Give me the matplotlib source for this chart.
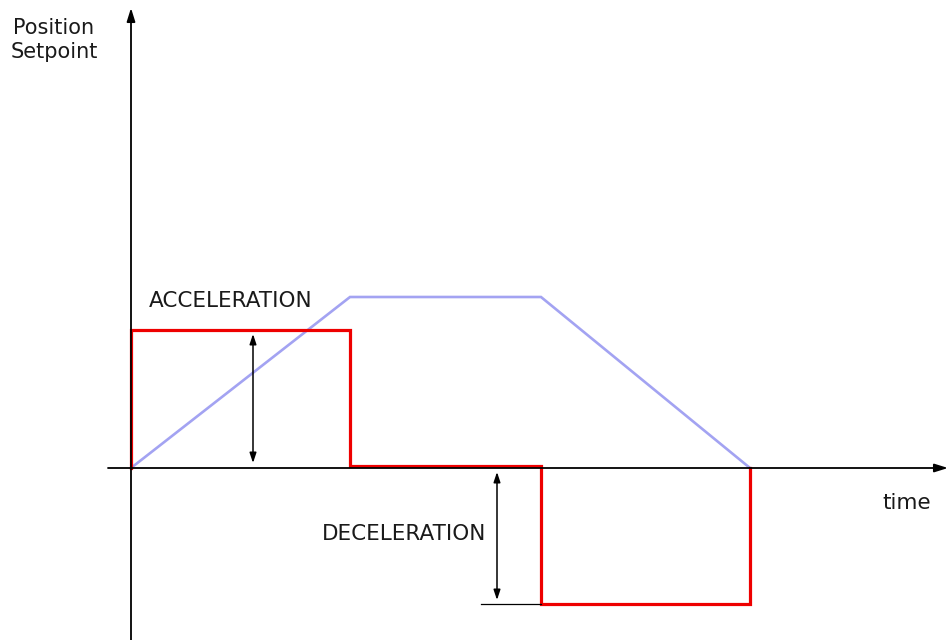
import matplotlib
matplotlib.use('Agg')
import matplotlib.pyplot as plt

# time instants: start, end of acceleration, end of constant speed, stop
time_pts = [0.0, 2.19, 4.10, 6.19]
# acceleration setpoint per segment
accel_levels = [1.38, 0.02, -1.36]
# position setpoint at the time instants
position_pts = [0.0, 1.71, 1.71, 0.0]

red = '#ee0000'
blue = '#a3a3f2'
txt = '#1a1a1a'

fig = plt.figure(figsize=(9.5, 6.4), dpi=100)
ax = fig.add_axes([0, 0, 1, 1])
ax.set_xlim(-1.31, 8.19)
ax.set_ylim(-1.72, 4.68)
ax.axis('off')

# axes with arrows
ax.annotate('', xy=(8.17, 0), xytext=(-0.23, 0),
            arrowprops=dict(arrowstyle='-|>,head_length=0.8,head_width=0.25',
                            color='black', lw=1.3, shrinkA=0, shrinkB=0))
ax.annotate('', xy=(0, 4.60), xytext=(0, -1.75),
            arrowprops=dict(arrowstyle='-|>,head_length=0.8,head_width=0.25',
                            color='black', lw=1.3, shrinkA=0, shrinkB=0))

# position setpoint (trapezoid)
ax.plot(time_pts, position_pts, color=blue, lw=1.9, solid_joinstyle='miter')

# acceleration setpoint (steps)
xs, ys = [time_pts[0]], [0.0]
for i, lvl in enumerate(accel_levels):
    xs += [time_pts[i], time_pts[i + 1]]
    ys += [lvl, lvl]
xs.append(time_pts[-1])
ys.append(0.0)
ax.plot(xs, ys, color=red, lw=2.3, solid_joinstyle='miter')

# dimension arrows
acc_x = 1.22
ax.annotate('', xy=(acc_x, accel_levels[0] - 0.04), xytext=(acc_x, 0.05),
            arrowprops=dict(arrowstyle='<|-|>,head_length=0.6,head_width=0.2',
                            color='black', lw=1.1, shrinkA=0, shrinkB=0))
dec_x = 3.66
ax.annotate('', xy=(dec_x, -0.04), xytext=(dec_x, accel_levels[2] + 0.04),
            arrowprops=dict(arrowstyle='<|-|>,head_length=0.6,head_width=0.2',
                            color='black', lw=1.1, shrinkA=0, shrinkB=0))
ax.plot([3.50, time_pts[2]], [accel_levels[2], accel_levels[2]], color='black', lw=0.9)

# labels
ax.text(-0.77, 4.28, 'Position\nSetpoint', ha='center', va='center',
        fontsize=15, color=txt, linespacing=1.2)
ax.text(0.18, 1.67, 'ACCELERATION', ha='left', va='center', fontsize=15.5, color=txt)
ax.text(1.91, -0.66, 'DECELERATION', ha='left', va='center', fontsize=15.5, color=txt)
ax.text(7.51, -0.35, 'time', ha='left', va='center', fontsize=15.5, color=txt)

fig.savefig('out.png', dpi=100)
